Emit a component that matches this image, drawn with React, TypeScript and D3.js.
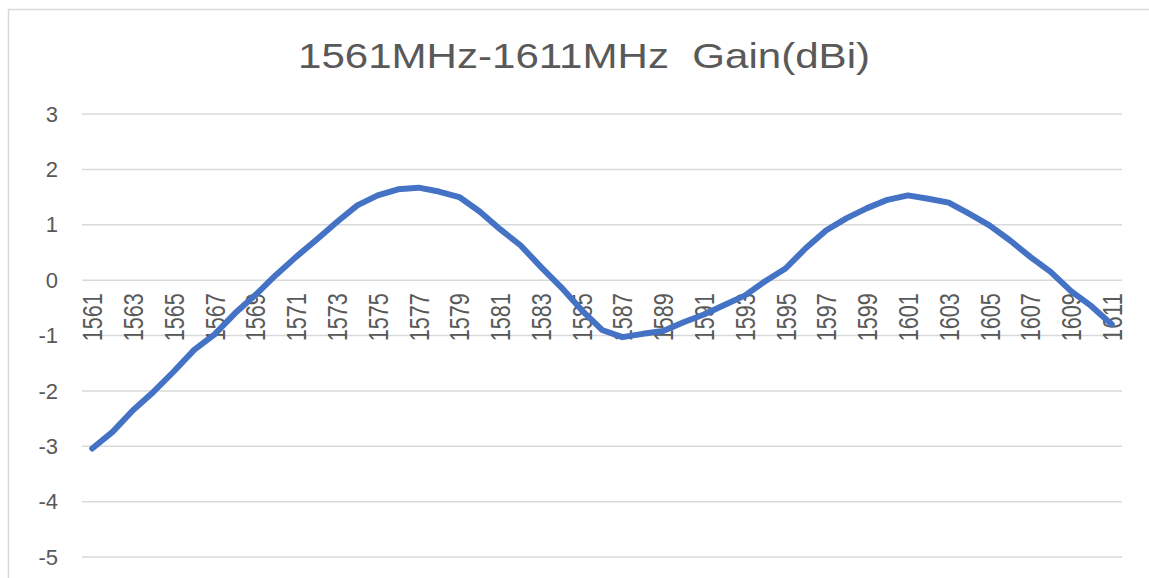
import React, { useEffect, useRef } from "react";
import * as d3 from "d3";

// Frequencies (MHz) and measured gain (dBi)
const freqs: number[] = d3.range(1561, 1612);
const gain: number[] = [
  -3.04, -2.74, -2.35, -2.02, -1.65, -1.26, -0.98, -0.6, -0.27, 0.09,
  0.42, 0.73, 1.05, 1.35, 1.53, 1.64, 1.67, 1.6, 1.5, 1.24,
  0.92, 0.63, 0.24, -0.13, -0.54, -0.9, -1.03, -0.97, -0.92, -0.76,
  -0.62, -0.45, -0.28, -0.02, 0.21, 0.58, 0.9, 1.12, 1.3, 1.45,
  1.53, 1.47, 1.4, 1.2, 0.99, 0.72, 0.42, 0.15, -0.2, -0.47,
  -0.8,
];
const yTicks: number[] = [3, 2, 1, 0, -1, -2, -3, -4, -5];
const xTickLabels: string[] = freqs.filter((_, i) => i % 2 === 0).map(String);
const title = "1561MHz-1611MHz  Gain(dBi)";

const App: React.FC = () => {
  const ref = useRef<SVGSVGElement>(null);

  useEffect(() => {
    if (!ref.current) return;
    const svg = d3.select(ref.current);
    svg.selectAll("*").remove();

    const left = 82;
    const right = 1122;
    const x = d3
      .scaleBand<string>()
      .domain(freqs.map(String))
      .range([left, right]);
    const y = d3.scaleLinear().domain([-5, 3]).range([557, 114]);
    const cx = (f: number) => (x(String(f)) as number) + x.bandwidth() / 2;

    // chart border
    svg
      .append("rect")
      .attr("x", 8.5)
      .attr("y", 9.5)
      .attr("width", 1200)
      .attr("height", 700)
      .attr("fill", "#fff")
      .attr("stroke", "#d9d9d9")
      .attr("stroke-width", 1.5);

    // title
    svg
      .append("text")
      .attr("x", 584)
      .attr("y", 68)
      .attr("text-anchor", "middle")
      .attr("font-family", "Liberation Sans, Arial, sans-serif")
      .attr("font-size", 35)
      .attr("fill", "#595959")
      .attr("textLength", 572)
      .attr("lengthAdjust", "spacingAndGlyphs")
      .attr("xml:space", "preserve")
      .text(title);

    // grid
    svg
      .append("g")
      .selectAll("line")
      .data(yTicks)
      .enter()
      .append("line")
      .attr("x1", left)
      .attr("x2", right)
      .attr("y1", (d) => y(d))
      .attr("y2", (d) => y(d))
      .attr("stroke", "#d9d9d9")
      .attr("stroke-width", 1.5);

    // y labels
    svg
      .append("g")
      .selectAll("text")
      .data(yTicks)
      .enter()
      .append("text")
      .attr("x", 58)
      .attr("y", (d) => y(d))
      .attr("dy", "0.35em")
      .attr("text-anchor", "end")
      .attr("font-family", "Liberation Sans, Arial, sans-serif")
      .attr("font-size", 22)
      .attr("fill", "#595959")
      .text((d) => (d < 0 ? "-" + Math.abs(d) : String(d)));

    // x labels, rotated, hanging under the zero line
    svg
      .append("g")
      .selectAll("text")
      .data(xTickLabels)
      .enter()
      .append("text")
      .attr(
        "transform",
        (d) => `translate(${(x(d) as number) + x.bandwidth() / 2},${y(0) + 13}) rotate(-90)`
      )
      .attr("text-anchor", "end")
      .attr("dy", "0.36em")
      .attr("font-family", "Liberation Sans, Arial, sans-serif")
      .attr("font-size", 28)
      .attr("textLength", 48)
      .attr("lengthAdjust", "spacingAndGlyphs")
      .attr("fill", "#595959")
      .text((d) => d);

    // gain line
    const line = d3
      .line<number>()
      .x((_, i) => cx(freqs[i]))
      .y((d) => y(d));

    svg
      .append("path")
      .datum(gain)
      .attr("fill", "none")
      .attr("stroke", "#4472c4")
      .attr("stroke-width", 6)
      .attr("stroke-linejoin", "round")
      .attr("stroke-linecap", "round")
      .attr("d", line);
  }, []);

  return (
    <svg
      ref={ref}
      width={1149}
      height={578}
      style={{ position: "absolute", left: 0, top: 0, background: "#fff" }}
    />
  );
};

export default App;
